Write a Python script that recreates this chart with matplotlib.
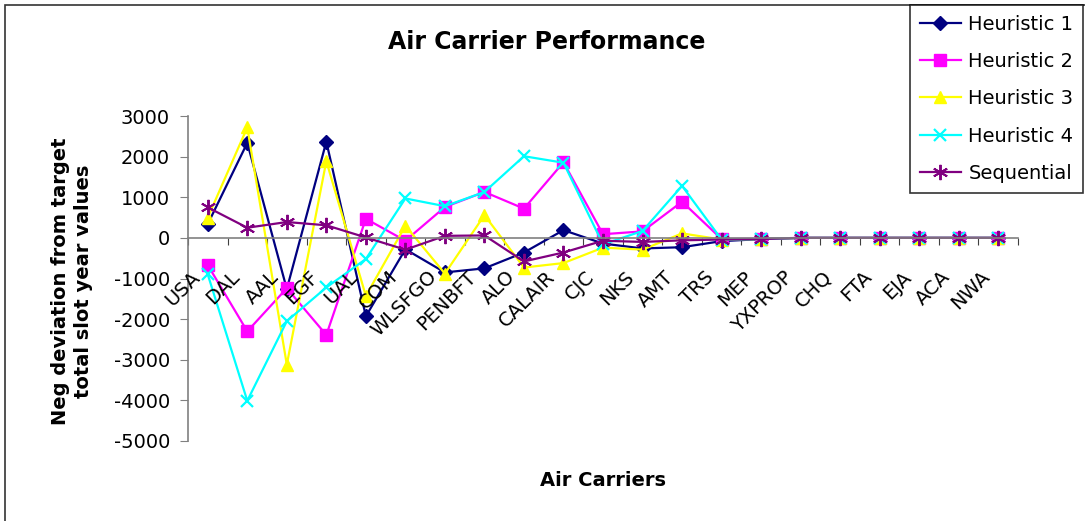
import matplotlib.pyplot as plt
from matplotlib.patches import Rectangle
import numpy as np

plt.rcParams['font.family'] = ['DejaVu Sans']
plt.rcParams['axes.unicode_minus'] = False

# data
carriers = ['USA', 'DAL', 'AAL', 'EGF', 'UAL', 'COM', 'WLSFGO', 'PENBFT', 'ALO',
            'CALAIR', 'CJC', 'NKS', 'AMT', 'TRS', 'MEP', 'YXPROP', 'CHQ', 'FTA',
            'EJA', 'ACA', 'NWA']
heur1 = [340, 2340, -1260, 2370, -1930, -280, -850, -750, -360, 190, -140, -260,
         -230, -80, -30, 0, 0, 0, 0, 0, 0]
heur2 = [-670, -2300, -1240, -2390, 470, -70, 760, 1130, 720, 1860, 90, 160,
         890, -30, -20, 0, 0, 0, 0, 0, 0]
heur3 = [500, 2720, -3120, 1890, -1430, 300, -880, 560, -730, -620, -240, -290,
         110, -40, -30, 0, 0, 0, 0, 0, 0]
heur4 = [-900, -4010, -2050, -1220, -520, 970, 780, 1130, 2010, 1850, -160, 170,
         1280, -40, -30, 0, 0, 0, 0, 0, 0]
sequential = [750, 250, 390, 310, 10, -290, 50, 60, -580, -360, -70, -100,
              -60, -40, -30, 0, 0, 0, 0, 0, 0]

fig = plt.figure(figsize=(10.85, 5.21), dpi=100)
# outer chart frame (cut off at right/bottom like the source)
fig.patches.append(Rectangle((5 / 1085, -0.1), 1.2, 1 - 5 / 521 + 0.1,
                             transform=fig.transFigure, fill=False,
                             edgecolor='#333333', linewidth=1.2))

ax = fig.add_axes([188 / 1085, 1 - 441 / 521, (1018 - 188) / 1085, (441 - 116) / 521])
x = np.arange(len(carriers))

ax.plot(x, heur1, color='#000080', marker='D', markersize=7, linewidth=1.6, label='Heuristic 1')
ax.plot(x, heur2, color='#FF00FF', marker='s', markersize=8, linewidth=1.6, label='Heuristic 2')
ax.plot(x, heur3, color='#FFFF00', marker='^', markersize=9, linewidth=1.6, label='Heuristic 3')
ax.plot(x, heur4, color='#00FFFF', marker='x', markersize=9, markeredgewidth=1.6, linewidth=1.6, label='Heuristic 4')
ax.plot(x, sequential, color='#800080', marker=(6, 2, 0), markersize=11, markeredgewidth=1.4, linewidth=1.6, label='Sequential')

ax.set_xlim(-0.5, len(carriers) - 0.5)
ax.set_ylim(-5000, 3000)
ax.set_yticks(np.arange(-5000, 3001, 1000))
ax.tick_params(axis='y', labelsize=14, length=6, color='#808080', pad=7)

for s in ['top', 'right']:
    ax.spines[s].set_visible(False)
ax.spines['left'].set_color('#808080')
ax.spines['bottom'].set_color('#808080')
ax.spines['bottom'].set_position(('data', 0))
ax.spines['left'].set_linewidth(1.2)
ax.spines['bottom'].set_linewidth(1.2)

ax.set_xticks(np.arange(-0.5, len(carriers), 1.0))
ax.set_xticklabels([])
ax.tick_params(axis='x', length=5, color='#404040', direction='out')
for i, name in enumerate(carriers):
    ax.annotate(name, xy=(i, 0), xycoords='data', xytext=(-8, -26), textcoords='offset points',
                rotation=45, rotation_mode='anchor', ha='right', va='center', fontsize=14)

fig.text(547 / 1085, 1 - 42 / 521, 'Air Carrier Performance', ha='center', va='center',
         fontsize=17, fontweight='bold')
fig.text(603 / 1085, 1 - 480 / 521, 'Air Carriers', ha='center', va='center',
         fontsize=14, fontweight='bold')
fig.text(72 / 1085, 1 - 281 / 521, 'Neg deviation from target\ntotal slot year values',
         ha='center', va='center', rotation=90, fontsize=14, fontweight='bold',
         linespacing=1.3)

leg = fig.legend(loc='upper right', bbox_to_anchor=(1083 / 1085, 1 - 5 / 521),
                 borderaxespad=0, fontsize=14, frameon=True, fancybox=False,
                 edgecolor='black', handlelength=2.1, labelspacing=0.94,
                 borderpad=0.5, handletextpad=0.4)
leg.get_frame().set_linewidth(1.2)

fig.savefig('out.png', dpi=100)
